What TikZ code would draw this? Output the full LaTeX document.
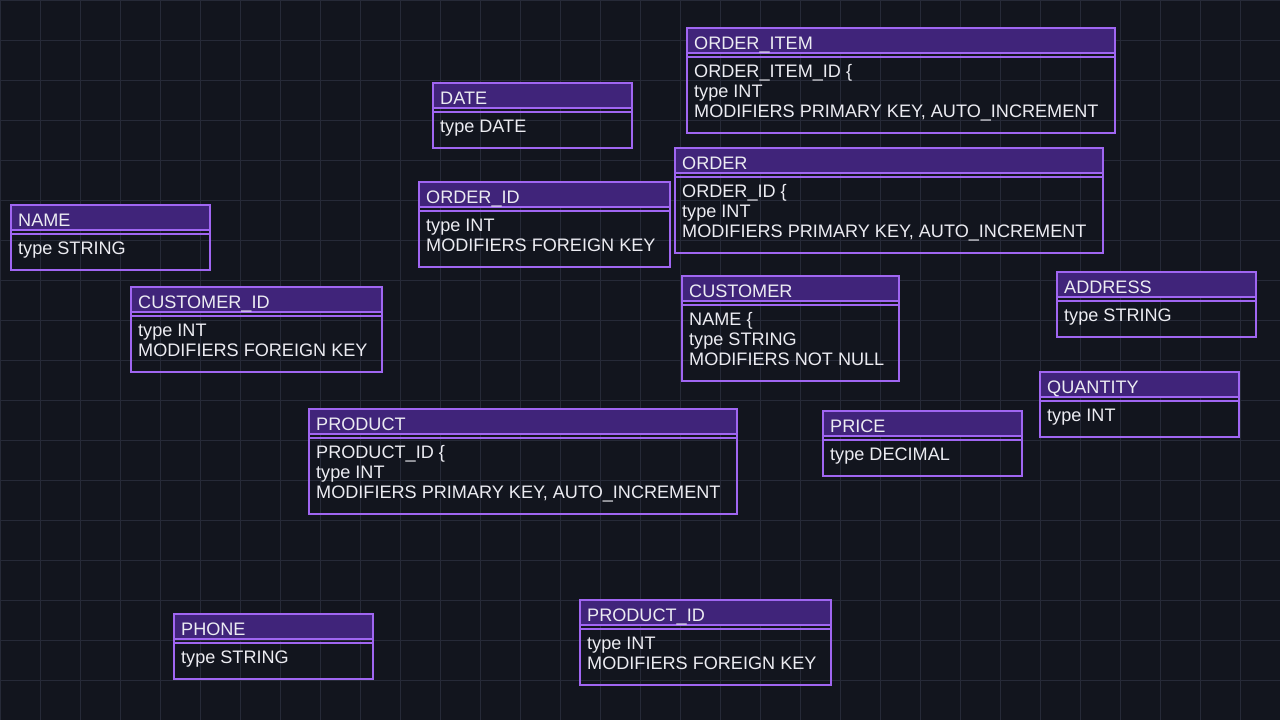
\documentclass[tikz,border=0pt]{standalone}
\usepackage{fontspec}
\setmainfont{Liberation Sans}
\usepackage{tikz}

\definecolor{bgcol}{RGB}{18,21,30}
\definecolor{gridcol}{RGB}{38,42,56}
\definecolor{edgecol}{RGB}{160,102,242}
\definecolor{headcol}{RGB}{64,36,122}
\definecolor{txtcol}{RGB}{236,236,242}

\tikzset{
  boxline/.style={draw=edgecol, line width=2pt},
  headfill/.style={fill=headcol},
  headtext/.style={anchor=base west, inner sep=0pt, text=txtcol,
    font=\fontsize{18.1}{20}\selectfont},
  bodytext/.style={anchor=north west, inner sep=0pt, text=txtcol, align=left,
    font=\fontsize{18.1}{20}\selectfont}
}

% #1 name, #2 x, #3 y, #4 width, #5 height, #6 title, #7 field lines
\newcommand\erbox[7]{%
  \fill[headfill] (#2,#3) rectangle ++(#4,25);
  \draw[boxline] (#2,#3) rectangle ++(#4,#5);
  \draw[boxline] (#2,#3) ++(0,25) -- ++(#4,0);
  \draw[boxline, line width=1.6pt] (#2,#3) ++(0,29) -- ++(#4,0);
  \path (#2,#3) ++(7,21) node[headtext] (#1) {#6};
  \path (#2,#3) ++(7,34) node[bodytext] (#1-f) {\rule{0pt}{15pt}#7};
}

\begin{document}
\begin{tikzpicture}[x=1pt, y=-1pt]
 \useasboundingbox (0,0) rectangle (1280,720);
 \fill[bgcol] (0,0) rectangle (1280,720);
 \foreach \gx in {0,40,...,1280}
   \draw[gridcol, line width=1pt] (\gx,0) -- (\gx,720);
 \foreach \gy in {0,40,...,720}
   \draw[gridcol, line width=1pt] (0,\gy) -- (1280,\gy);

 \erbox{name}{11}{205}{199}{65}{NAME}{type STRING}
 \erbox{custid}{131}{287}{251}{85}{CUSTOMER\_ID}{type INT\\MODIFIERS FOREIGN KEY}
 \erbox{date}{433}{83}{199}{65}{DATE}{type DATE}
 \erbox{orderid}{419}{182}{251}{85}{ORDER\_ID}{type INT\\MODIFIERS FOREIGN KEY}
 \erbox{orderitem}{687}{28}{428}{105}{ORDER\_ITEM}{ORDER\_ITEM\_ID \{\\type INT\\MODIFIERS PRIMARY KEY, AUTO\_INCREMENT}
 \erbox{order}{675}{148}{428}{105}{ORDER}{ORDER\_ID \{\\type INT\\MODIFIERS PRIMARY KEY, AUTO\_INCREMENT}
 \erbox{customer}{682}{276}{217}{105}{CUSTOMER}{NAME \{\\type STRING\\MODIFIERS NOT NULL}
 \erbox{address}{1057}{272}{199}{65}{ADDRESS}{type STRING}
 \erbox{quantity}{1040}{372}{199}{65}{QUANTITY}{type INT}
 \erbox{price}{823}{411}{199}{65}{PRICE}{type DECIMAL}
 \erbox{product}{309}{409}{428}{105}{PRODUCT}{PRODUCT\_ID \{\\type INT\\MODIFIERS PRIMARY KEY, AUTO\_INCREMENT}
 \erbox{phone}{174}{614}{199}{65}{PHONE}{type STRING}
 \erbox{productid}{580}{600}{251}{85}{PRODUCT\_ID}{type INT\\MODIFIERS FOREIGN KEY}
\end{tikzpicture}
\end{document}
